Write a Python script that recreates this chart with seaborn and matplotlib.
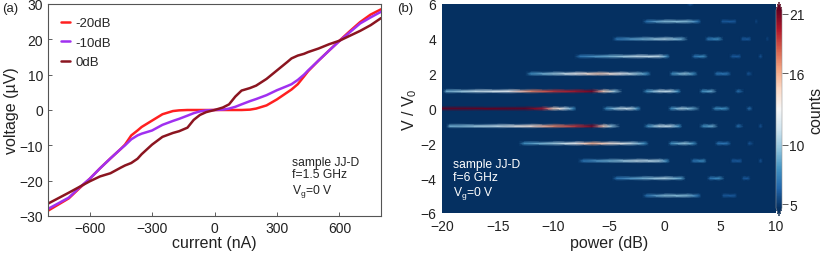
import numpy as np
import pandas as pd
import seaborn as sns
import matplotlib.pyplot as plt
from matplotlib.colors import Normalize
from matplotlib.cm import ScalarMappable

# ---- panel (a): IV curves ----
current = [-800, -700, -650, -600, -550, -500, -450, -430, -400, -370, -350, -300, -250, -200,
           -170, -130, -100, -70, -40, 0, 40, 70, 100, 130, 170, 200, 250, 300, 350, 370,
           400, 430, 450, 500, 550, 600, 650, 700, 750, 800]
v_m20 = [-28.5, -25.0, -22.2, -19.5, -16.5, -13.7, -11.0, -9.8, -7.2, -5.8, -4.8, -3.0, -1.2, -0.3,
         -0.1, 0, 0, 0, 0, 0, 0, 0, 0, 0, 0.1, 0.4, 1.3, 3.0, 5.0, 5.8,
         7.3, 9.5, 11.0, 14.0, 16.8, 19.6, 22.3, 24.9, 27.0, 28.5]
v_m10 = [-28.0, -24.8, -22.0, -19.5, -16.5, -13.7, -11.0, -10.0, -8.3, -7.2, -6.7, -5.8, -4.2, -3.1,
         -2.5, -1.6, -0.9, -0.4, -0.1, 0, 0.1, 0.4, 0.9, 1.6, 2.5, 3.1, 4.2, 5.6, 6.8, 7.3,
         8.5, 10.0, 11.2, 14.0, 16.8, 19.5, 22.0, 24.5, 26.2, 27.8]
v_0 = [-26.5, -23.4, -21.8, -20.2, -18.8, -17.9, -16.3, -15.7, -15.0, -13.8, -12.5, -9.8, -7.6, -6.5,
       -6.0, -5.0, -2.8, -1.4, -0.6, 0, 0.7, 1.6, 3.8, 5.5, 6.2, 6.9, 8.8, 11.2, 13.6, 14.6,
       15.4, 15.9, 16.4, 17.4, 18.6, 19.6, 21.0, 22.4, 24.0, 26.0]
labels = ['-20dB', '-10dB', '0dB']
colors = ['#ff2020', '#a030f0', '#8b1520']

# ---- panel (b): Shapiro-step histogram, (power dB, counts) knots along each step ----
step_p0 = [(-20, 22), (-12.5, 22), (-11, 20), (-10, 15), (-9, 12), (-8.2, 8), (-7.9, 4),
           (-5.6, 4), (-5.2, 8), (-4, 11), (-3, 11), (-2.4, 8), (-2.1, 4),
           (0.3, 4), (0.6, 8), (1.5, 10.5), (2.5, 9), (3.2, 4),
           (4.2, 4), (4.6, 8), (5.5, 8), (5.9, 4), (7.3, 4), (7.6, 7), (7.9, 4)]
step_p1 = [(-19.9, 4), (-19.6, 9), (-17, 11), (-14, 12.5), (-12, 17), (-10, 19), (-8, 20), (-6.5, 21),
           (-5.5, 15), (-4.5, 10), (-3.8, 4),
           (-2, 4), (-1.6, 8), (-0.5, 11), (0.5, 11), (1.2, 8), (1.5, 4),
           (3.1, 4), (3.4, 8), (4.2, 9), (4.7, 4), (6.3, 4), (6.6, 7), (7.1, 4)]
step_m1 = [(-19.6, 4), (-19.3, 9), (-15, 11), (-12, 14), (-10, 17), (-8, 19), (-6.5, 21),
           (-5.5, 15), (-4.8, 10), (-4, 4),
           (-1.9, 4), (-1.5, 8), (-0.5, 11), (0.5, 11), (1.3, 8), (1.6, 4),
           (3.1, 4), (3.5, 8), (4.3, 9), (4.8, 4), (6.3, 4), (6.6, 7), (7.1, 4),
           (8.4, 4), (8.6, 6), (8.8, 4)]
step_p2 = [(-12.5, 4), (-12, 8), (-10, 10), (-8, 13), (-6, 15), (-4, 13), (-2.5, 10), (-1.6, 8), (-1.2, 4),
           (0.4, 4), (0.7, 8), (1.8, 10), (2.6, 8), (3, 4),
           (4.4, 4), (4.7, 7), (5.6, 7), (6, 4), (7.3, 4), (7.5, 6), (7.9, 4)]
step_m2 = [(-13.1, 4), (-12.6, 8), (-10, 10), (-8, 13), (-6.5, 16), (-5, 14), (-3, 11), (-1.8, 8), (-1.4, 4),
           (0.3, 4), (0.6, 8), (1.8, 10), (2.6, 8), (3, 4),
           (4.5, 4), (4.8, 7), (5.6, 7), (6, 4), (7.4, 4), (7.6, 6), (8, 4)]
step_p3 = [(-8.1, 4), (-7.6, 7), (-5, 9), (-2.5, 11), (-0.5, 11), (0.2, 8), (0.5, 4),
           (2.4, 4), (2.7, 7), (3.5, 8), (3.9, 4), (5.8, 4), (6.1, 6), (6.7, 6), (6.9, 4),
           (8.4, 4), (8.6, 6), (8.8, 4)]
step_m3 = [(-7.8, 4), (-7.3, 7), (-5, 9), (-2.5, 11), (-0.5, 10.5), (0.2, 8), (0.5, 4),
           (2.3, 4), (2.6, 7), (3.5, 8), (3.8, 4), (5.9, 4), (6.1, 6), (6.8, 6), (7, 4),
           (8.4, 4), (8.6, 6), (8.8, 4)]
step_p4 = [(-4.7, 4), (-4.3, 7), (-2, 9), (0, 10.5), (1.5, 9), (2.1, 4),
           (3.6, 4), (3.9, 7), (4.8, 8), (5.3, 4), (6.8, 4), (7, 6), (7.6, 6), (7.8, 4),
           (9.1, 4), (9.2, 5.5), (9.4, 4)]
step_m4 = [(-4.7, 4), (-4.3, 7), (-2, 9), (0, 10.5), (1.5, 8.5), (1.9, 4),
           (3.8, 4), (4.1, 7), (4.9, 8), (5.4, 4), (6.9, 4), (7.1, 6), (7.5, 6), (7.7, 4)]
step_p5 = [(-2, 4), (-1.6, 7), (0, 9.5), (2, 9.5), (3, 7), (3.3, 4),
           (5, 4), (5.2, 6), (6.3, 6), (6.5, 4), (8.1, 4), (8.2, 5.5), (8.4, 4)]
step_m5 = [(-2, 4), (-1.6, 7), (0, 9.5), (2, 9.5), (3, 7), (3.3, 4),
           (5.1, 4), (5.3, 6), (6.3, 6), (6.5, 4)]
step_p6 = [(2, 4), (2.3, 6), (2.6, 4)]
steps = {0: step_p0, 1: step_p1, -1: step_m1, 2: step_p2, -2: step_m2, 3: step_p3, -3: step_m3,
         4: step_p4, -4: step_m4, 5: step_p5, -5: step_m5, 6: step_p6}
cbar_ticks = [5, 10, 16, 21]

sns.set_style('ticks')
plt.rcParams['font.family'] = ['Liberation Sans', 'DejaVu Sans']
plt.rcParams['mathtext.fontset'] = 'custom'
plt.rcParams['mathtext.rm'] = 'Liberation Sans'
plt.rcParams['mathtext.it'] = 'Liberation Sans:italic'
plt.rcParams['font.size'] = 10
text_c = '#222222'
lab_fs = 11.5

fig = plt.figure(figsize=(8.22, 2.55), dpi=100)
ax1 = fig.add_axes([48 / 822, 38 / 255, 333 / 822, 212 / 255])
ax2 = fig.add_axes([442 / 822, 41 / 255, 334 / 822, 209 / 255])
cax = fig.add_axes([776 / 822, 38 / 255, 6 / 822, 214 / 255])

# (a)
df = pd.concat([pd.DataFrame({'current': current, 'voltage': v, 'power': lab})
                for v, lab in zip([v_m20, v_m10, v_0], labels)])
sns.lineplot(data=df, x='current', y='voltage', hue='power', palette=colors, sort=False,
             estimator=None, lw=1.8, ax=ax1)
ax1.set_xlim(-800, 800)
ax1.set_ylim(-30, 30)
ax1.set_xticks([-600, -300, 0, 300, 600])
ax1.set_yticks([-30, -20, -10, 0, 10, 20, 30])
ax1.set_xlabel('current (nA)', labelpad=0, color=text_c, fontsize=lab_fs)
ax1.set_ylabel('voltage (µV)', labelpad=0, color=text_c, fontsize=lab_fs)
ax1.tick_params(direction='in', length=3, width=0.6, colors='#444', labelcolor=text_c, labelsize=10)
for s in ax1.spines.values():
    s.set_color('#555')
    s.set_linewidth(0.8)
leg = ax1.legend(loc='upper left', frameon=False, handlelength=0.7, handletextpad=0.4,
                 labelspacing=0.55, borderaxespad=0.6, fontsize=9.5)
ax1.text(0.733, 0.285, 'sample JJ-D\nf=1.5 GHz\n$\\mathregular{V_g}$=0 V', transform=ax1.transAxes,
         va='top', ha='left', fontsize=8.7, color=text_c, linespacing=1.1)

# (b)
cmap = plt.get_cmap('RdBu_r')
norm = Normalize(vmin=4.7, vmax=21.3)
ax2.set_facecolor(cmap(0.0))
hw = 0.13
for n, knots in steps.items():
    p = np.array([k[0] for k in knots])
    c = np.array([k[1] for k in knots])
    X = np.vstack([p, p, p])
    Y = np.vstack([np.full_like(p, n - hw), np.full_like(p, n), np.full_like(p, n + hw)])
    C = np.vstack([np.full_like(c, 4.0), c, np.full_like(c, 4.0)])
    ax2.pcolormesh(X, Y, C, cmap=cmap, norm=norm, shading='gouraud')
ax2.set_xlim(-20, 10)
ax2.set_ylim(-6, 6)
ax2.set_xticks([-20, -15, -10, -5, 0, 5, 10])
ax2.set_yticks([-6, -4, -2, 0, 2, 4, 6])
ax2.set_xlabel('power (dB)', labelpad=2, color=text_c, fontsize=lab_fs)
ax2.set_ylabel('V / V$_0$', labelpad=1, color=text_c, fontsize=lab_fs)
ax2.tick_params(direction='in', length=0, labelcolor=text_c, labelsize=10, pad=4)
for s in ax2.spines.values():
    s.set_visible(False)
ax2.text(0.033, 0.262, 'sample JJ-D\nf=6 GHz\n$\\mathregular{V_g}$=0 V', transform=ax2.transAxes,
         va='top', ha='left', fontsize=8.7, color='white', linespacing=1.1)

sm = ScalarMappable(norm=norm, cmap=cmap)
cb = fig.colorbar(sm, cax=cax, extend='both', ticks=cbar_ticks, extendfrac=0.04)
cb.outline.set_linewidth(0.4)
cb.outline.set_edgecolor('#999')
cb.ax.tick_params(length=4, width=0.6, colors='#444', labelcolor=text_c, labelsize=10, pad=1)
cb.set_label('counts', color=text_c, labelpad=3, fontsize=lab_fs)

fig.text(2 / 822, 1 - 9 / 255, '(a)', fontsize=9.5, color=text_c, va='center')
fig.text(397 / 822, 1 - 9 / 255, '(b)', fontsize=9.5, color=text_c, va='center')

fig.savefig('out.png', dpi=100)
